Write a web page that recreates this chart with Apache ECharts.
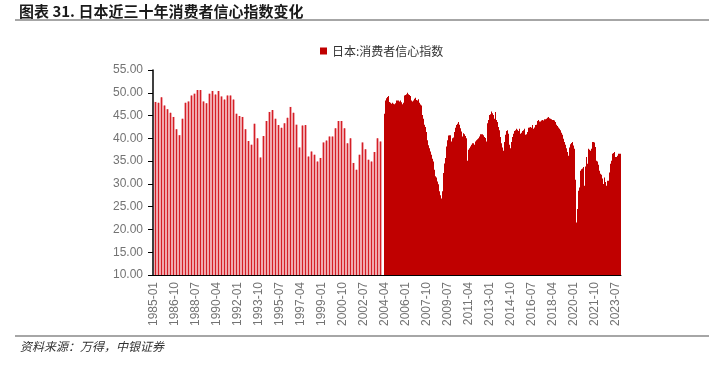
<!DOCTYPE html>
<html>
<head>
<meta charset="utf-8">
<script src="https://cdn.jsdelivr.net/npm/echarts@6/dist/echarts.min.js"></script>
<style>
  html, body { margin: 0; padding: 0; background: #fff; }
  #chart { width: 722px; height: 365px; }
</style>
</head>
<body>
<div id="chart"></div>
<script>
// 1985-03 ~ 2003-12 季度数据（每年3、6、9、12月）
var quarterVals = [
    48.0, 47.8, 49.0, 47.2, 46.4, 45.6, 44.7, 42.0, 40.7, 44.3,
    47.8, 48.1, 49.4, 49.8, 50.6, 50.6, 48.1, 47.7, 49.8, 50.4,
    49.6, 50.4, 49.2, 48.5, 49.4, 49.4, 48.5, 45.4, 44.9, 44.7,
    42.0, 39.4, 38.6, 43.2, 40.0, 35.8, 40.5, 43.8, 45.8, 46.2,
    44.3, 42.9, 42.3, 43.3, 44.5, 46.9, 45.6, 43.0, 38.0, 42.8,
    42.9, 36.0, 37.1, 36.4, 34.9, 35.7, 39.1, 39.5, 40.4, 40.4,
    42.2, 43.8, 43.8, 42.2, 38.9, 40.0, 34.6, 33.1, 36.4, 39.1,
    37.6, 35.3, 34.9, 37.0, 40.0, 39.3
];

// 2004-04 起月度数据
var monthlyVals = [
    45.4, 48.3, 48.8, 49.1, 49.3, 48.0, 47.8, 47.6, 47.8, 47.6,
    47.5, 47.7, 48.3, 48.3, 48.3, 48.1, 48.3, 47.9, 47.5, 47.8,
    49.4, 49.5, 49.7, 50.0, 49.7, 49.5, 49.3, 48.3, 48.1, 48.3,
    48.7, 48.9, 48.4, 48.3, 48.6, 47.8, 47.4, 47.2, 45.1, 44.3,
    43.0, 42.5, 41.4, 39.6, 38.5, 37.8, 37.1, 36.4, 35.5, 34.9,
    33.1, 31.7, 31.4, 30.5, 29.9, 28.4, 27.5, 26.8, 28.4, 32.4,
    34.5, 35.7, 38.2, 39.6, 40.6, 40.7, 40.7, 39.3, 40.0, 40.2,
    41.4, 42.3, 42.9, 43.2, 43.6, 43.0, 42.2, 41.5, 40.4, 41.1,
    40.9, 40.5, 40.0, 35.1, 37.5, 37.8, 38.2, 38.6, 38.9, 38.9,
    38.6, 39.3, 39.6, 39.8, 40.0, 40.4, 40.9, 40.9, 40.9, 40.7,
    40.3, 40.1, 39.3, 43.3, 44.0, 45.1, 45.3, 45.9, 45.5, 45.1,
    44.3, 45.8, 44.0, 43.6, 42.5, 41.8, 40.3, 38.9, 38.0, 37.3,
    39.2, 40.8, 41.6, 41.8, 41.0, 38.6, 37.8, 39.2, 40.3, 41.0,
    41.6, 41.8, 42.1, 41.9, 41.6, 42.1, 41.0, 41.2, 41.6, 41.8,
    42.1, 40.8, 40.9, 41.4, 42.3, 42.4, 42.5, 42.3, 42.9, 42.1,
    42.4, 42.9, 43.0, 43.8, 44.0, 43.7, 43.7, 43.9, 44.0, 43.9,
    44.2, 44.2, 44.3, 44.5, 44.7, 44.4, 44.3, 44.2, 44.0, 44.0,
    43.9, 43.6, 43.0, 42.7, 42.4, 42.1, 41.8, 41.2, 40.8, 39.9,
    39.2, 38.6, 37.8, 37.0, 36.2, 38.0, 38.7, 39.0, 39.2, 38.4,
    37.7, 30.9, 21.5, 24.5, 28.5, 29.2, 32.9, 33.2, 33.4, 33.7,
    29.6, 33.8, 35.9, 34.4, 37.7, 37.5, 37.3, 37.7, 39.2, 39.2,
    39.1, 38.1, 35.1, 34.9, 34.2, 32.9, 32.2, 32.0, 31.2, 30.0,
    31.4, 30.4, 29.6, 30.7, 30.7, 32.5, 34.4, 35.1, 36.6, 36.8,
    37.0, 35.9, 35.9, 36.2, 36.6, 36.6, 36.6
];

var startYear = 1985, endYear = 2023;
var monthlyStart = (2004 - startYear) * 12 + 3;   // 2004-04

// 月份类目 1985-01 ~ 2023-12
var months = [];
for (var y = startYear; y <= endYear; y++) {
    for (var m = 1; m <= 12; m++) {
        months.push(y + '-' + (m < 10 ? '0' + m : m));
    }
}

var qData = months.map(function () { return '-'; });
quarterVals.forEach(function (v, i) { qData[2 + i * 3] = v; });

var mData = months.map(function () { return '-'; });
monthlyVals.forEach(function (v, i) { mData[monthlyStart + i] = v; });

var chart = echarts.init(document.getElementById('chart'), null, { renderer: 'canvas' });

var grayLine = '#a6a6a6';
var hiddenAxis = function () {
    return { type: 'category', data: months, show: false };
};

var option = {
    backgroundColor: '#fff',
    animation: false,
    textStyle: { fontFamily: 'Liberation Sans, Arial, sans-serif' },
    graphic: [
        {
            type: 'text', left: 19, top: 4,
            style: {
                text: '图表 31. 日本近三十年消费者信心指数变化',
                font: 'bold 15px "Noto Sans CJK SC", sans-serif',
                fill: '#1a1a1a'
            }
        },
        { type: 'rect', shape: { x: 15, y: 19, width: 694, height: 2 }, style: { fill: grayLine } },
        { type: 'rect', shape: { x: 15, y: 335, width: 694, height: 2 }, style: { fill: grayLine } },
        {
            type: 'text', left: 20, top: 340,
            style: {
                text: '资料来源：万得，中银证券',
                font: 'italic 12px "Noto Sans CJK SC", sans-serif',
                fill: '#333'
            }
        }
    ],
    legend: {
        data: ['日本:消费者信心指数'],
        left: 315,
        top: 40,
        icon: 'rect',
        itemWidth: 7,
        itemHeight: 7,
        itemGap: 5,
        textStyle: { fontSize: 12, color: '#333', fontFamily: '"Noto Sans CJK SC", sans-serif' }
    },
    // 宽度正好 468px，每个月 1px，避免半像素发虚
    grid: { left: 153, right: 101, top: 70, bottom: 90 },
    xAxis: [
        {
            type: 'category',
            data: months,
            axisLine: { lineStyle: { color: '#000', width: 1 } },
            axisTick: { interval: 20, alignWithLabel: true, length: 5, lineStyle: { color: '#000' } },
            axisLabel: {
                interval: 20,
                rotate: 90,
                margin: 7,
                fontSize: 12,
                color: '#737373'
            }
        },
        hiddenAxis(),
        hiddenAxis()
    ],
    yAxis: {
        type: 'value',
        min: 10,
        max: 55,
        interval: 5,
        axisLine: { show: true, lineStyle: { color: '#000', width: 1.5 } },
        axisTick: { show: true, length: 5, lineStyle: { color: '#000' } },
        splitLine: { show: false },
        axisLabel: {
            fontSize: 12,
            color: '#737373',
            margin: 10,
            formatter: function (v) { return v.toFixed(2); }
        }
    },
    series: [
        {
            name: '日本:消费者信心指数',
            type: 'bar',
            xAxisIndex: 0,
            data: mData,
            barWidth: '100%',
            itemStyle: { color: '#c00000' }
        },
        {
            name: 'q_fill',
            type: 'bar',
            xAxisIndex: 1,
            data: qData,
            barWidth: 3,
            itemStyle: { color: '#f0a9ae' }
        },
        {
            name: 'q_line',
            type: 'bar',
            xAxisIndex: 2,
            data: qData,
            barWidth: 1,
            itemStyle: { color: '#d51f26' }
        }
    ]
};

chart.setOption(option);
</script>
</body>
</html>
